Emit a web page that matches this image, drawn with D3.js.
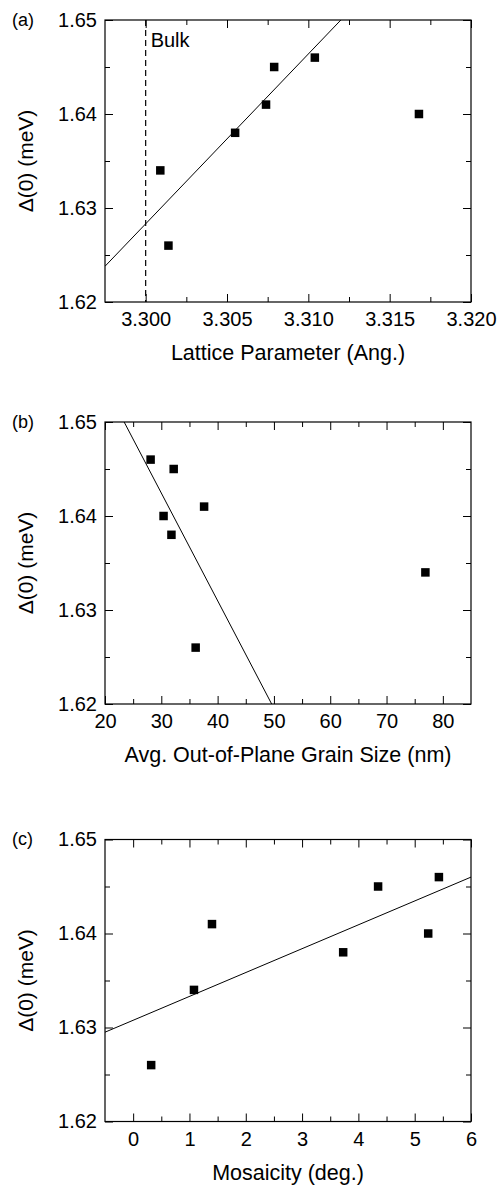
<!DOCTYPE html>
<html>
<head>
<meta charset="utf-8">
<script src="https://cdn.jsdelivr.net/npm/d3@7"></script>
<style>
  html, body { margin: 0; padding: 0; background: #fff; }
  svg { display: block; }
  text { font-family: "Liberation Sans", Arial, sans-serif; fill: #000; }
</style>
</head>
<body>
<svg id="chart" width="499" height="1186"></svg>
<script>
// ---------------- data ----------------
const panelLabels = ["(a)", "(b)", "(c)"];
const xTitles = ["Lattice Parameter (Ang.)", "Avg. Out-of-Plane Grain Size (nm)", "Mosaicity (deg.)"];
const yTitle = "\u0394(0) (meV)";

// (a) gap vs lattice parameter
const latticeParam = [3.3009, 3.3014, 3.3055, 3.3074, 3.3079, 3.3104, 3.3168];
const gapA         = [1.634,  1.626,  1.638,  1.641,  1.645,  1.646,  1.640];
const fitAX = [3.2975, 3.3120];
const fitAY = [1.6238, 1.6500];
const bulkLattice = 3.300;

// (b) gap vs out-of-plane grain size
const grainSize = [28.1, 32.2, 37.6, 30.4, 31.8, 36.1, 76.9];
const gapB      = [1.646, 1.645, 1.641, 1.640, 1.638, 1.626, 1.634];
const fitBX = [23.4, 49.6];
const fitBY = [1.650, 1.620];

// (c) gap vs mosaicity
const mosaicity = [0.32, 1.08, 1.40, 3.73, 4.35, 5.24, 5.43];
const gapC      = [1.626, 1.634, 1.641, 1.638, 1.645, 1.640, 1.646];
const fitCX = [-0.5, 6.0];
const fitCY = [1.6295, 1.6460];

// ticks
const xTicksA = [3.300, 3.305, 3.310, 3.315, 3.320];
const xMinorA = [3.3025, 3.3075, 3.3125, 3.3175];
const xTicksB = [20, 30, 40, 50, 60, 70, 80];
const xMinorB = [25, 35, 45, 55, 65, 75];
const xTicksC = [0, 1, 2, 3, 4, 5, 6];
const xMinorC = [0.5, 1.5, 2.5, 3.5, 4.5, 5.5];
const yTicks = [1.62, 1.63, 1.64, 1.65];
const yMinor = [1.625, 1.635, 1.645];

// ---------------- layout ----------------
const svg = d3.select("#chart");
const left = 105, right = 471;
const panelTops = [20, 422, 839.5];
const panelH = 282;

const panels = [
  { xd: [3.2975, 3.320], xs: latticeParam, ys: gapA, fx: fitAX, fy: fitAY,
    ticks: xTicksA, minor: xMinorA, fmt: d3.format(".3f"), bulk: true },
  { xd: [20, 85], xs: grainSize, ys: gapB, fx: fitBX, fy: fitBY,
    ticks: xTicksB, minor: xMinorB, fmt: d3.format("d") },
  { xd: [-0.5, 6], xs: mosaicity, ys: gapC, fx: fitCX, fy: fitCY,
    ticks: xTicksC, minor: xMinorC, fmt: d3.format("d") }
];

panels.forEach((p, i) => {
  const top = panelTops[i], bottom = top + panelH;
  const x = d3.scaleLinear().domain(p.xd).range([left, right]);
  const y = d3.scaleLinear().domain([1.62, 1.65]).range([bottom, top]);
  const g = svg.append("g");

  const clipId = "clip" + i;
  svg.append("clipPath").attr("id", clipId)
    .append("rect").attr("x", left).attr("y", top)
    .attr("width", right - left).attr("height", bottom - top);

  function styleAxis(sel) {
    sel.select(".domain").remove();
    sel.selectAll(".tick line").attr("stroke", "#000").attr("stroke-width", 1);
    sel.selectAll("text").attr("font-size", 20).attr("fill", "#000")
      .style("font-family", '"Liberation Sans", Arial, sans-serif');
  }

  // bottom axis
  g.append("g").attr("transform", `translate(0,${bottom})`)
    .call(d3.axisBottom(x).tickValues(p.ticks).tickFormat(p.fmt).tickSizeInner(-8).tickSizeOuter(0).tickPadding(10))
    .call(styleAxis);
  g.append("g").attr("transform", `translate(0,${bottom})`)
    .call(d3.axisBottom(x).tickValues(p.minor).tickFormat("").tickSizeInner(-5).tickSizeOuter(0))
    .call(styleAxis);
  // top axis
  g.append("g").attr("transform", `translate(0,${top})`)
    .call(d3.axisTop(x).tickValues(p.ticks).tickFormat("").tickSizeInner(-8).tickSizeOuter(0))
    .call(styleAxis);
  g.append("g").attr("transform", `translate(0,${top})`)
    .call(d3.axisTop(x).tickValues(p.minor).tickFormat("").tickSizeInner(-5).tickSizeOuter(0))
    .call(styleAxis);
  // left axis
  g.append("g").attr("transform", `translate(${left},0)`)
    .call(d3.axisLeft(y).tickValues(yTicks).tickFormat(d3.format(".2f")).tickSizeInner(-8).tickSizeOuter(0).tickPadding(8))
    .call(styleAxis);
  g.append("g").attr("transform", `translate(${left},0)`)
    .call(d3.axisLeft(y).tickValues(yMinor).tickFormat("").tickSizeInner(-5).tickSizeOuter(0))
    .call(styleAxis);
  // right axis
  g.append("g").attr("transform", `translate(${right},0)`)
    .call(d3.axisRight(y).tickValues(yTicks).tickFormat("").tickSizeInner(-8).tickSizeOuter(0))
    .call(styleAxis);
  g.append("g").attr("transform", `translate(${right},0)`)
    .call(d3.axisRight(y).tickValues(yMinor).tickFormat("").tickSizeInner(-5).tickSizeOuter(0))
    .call(styleAxis);

  // frame
  g.append("rect").attr("x", left).attr("y", top)
    .attr("width", right - left).attr("height", bottom - top)
    .attr("fill", "none").attr("stroke", "#000").attr("stroke-width", 1.2);

  // bulk dashed line
  if (p.bulk) {
    g.append("line")
      .attr("x1", x(bulkLattice)).attr("x2", x(bulkLattice))
      .attr("y1", y(1.65)).attr("y2", y(1.62))
      .attr("stroke", "#000").attr("stroke-width", 1.2)
      .attr("stroke-dasharray", "6,4");
    g.append("text")
      .attr("x", x(bulkLattice) + 5).attr("y", top + 26.5)
      .attr("font-size", 20).text("Bulk");
  }

  // fit line
  const line = d3.line().x(d => x(d[0])).y(d => y(d[1]));
  g.append("path")
    .datum(d3.zip(p.fx, p.fy))
    .attr("clip-path", `url(#${clipId})`)
    .attr("d", line)
    .attr("fill", "none").attr("stroke", "#000").attr("stroke-width", 1);

  // points
  const s = 8.5;
  g.selectAll("rect.pt").data(d3.zip(p.xs, p.ys)).enter()
    .append("rect").attr("class", "pt")
    .attr("x", d => x(d[0]) - s / 2).attr("y", d => y(d[1]) - s / 2)
    .attr("width", s).attr("height", s).attr("fill", "#000");

  // titles
  g.append("text")
    .attr("x", (left + right) / 2).attr("y", bottom + 58)
    .attr("text-anchor", "middle").attr("font-size", 21.5)
    .text(xTitles[i]);
  g.append("text")
    .attr("transform", `translate(33,${(top + bottom) / 2}) rotate(-90)`)
    .attr("text-anchor", "middle").attr("font-size", 21)
    .text(yTitle);
  g.append("text")
    .attr("x", 12).attr("y", top + 5.5)
    .attr("font-size", 18)
    .text(panelLabels[i]);
});
</script>
</body>
</html>
